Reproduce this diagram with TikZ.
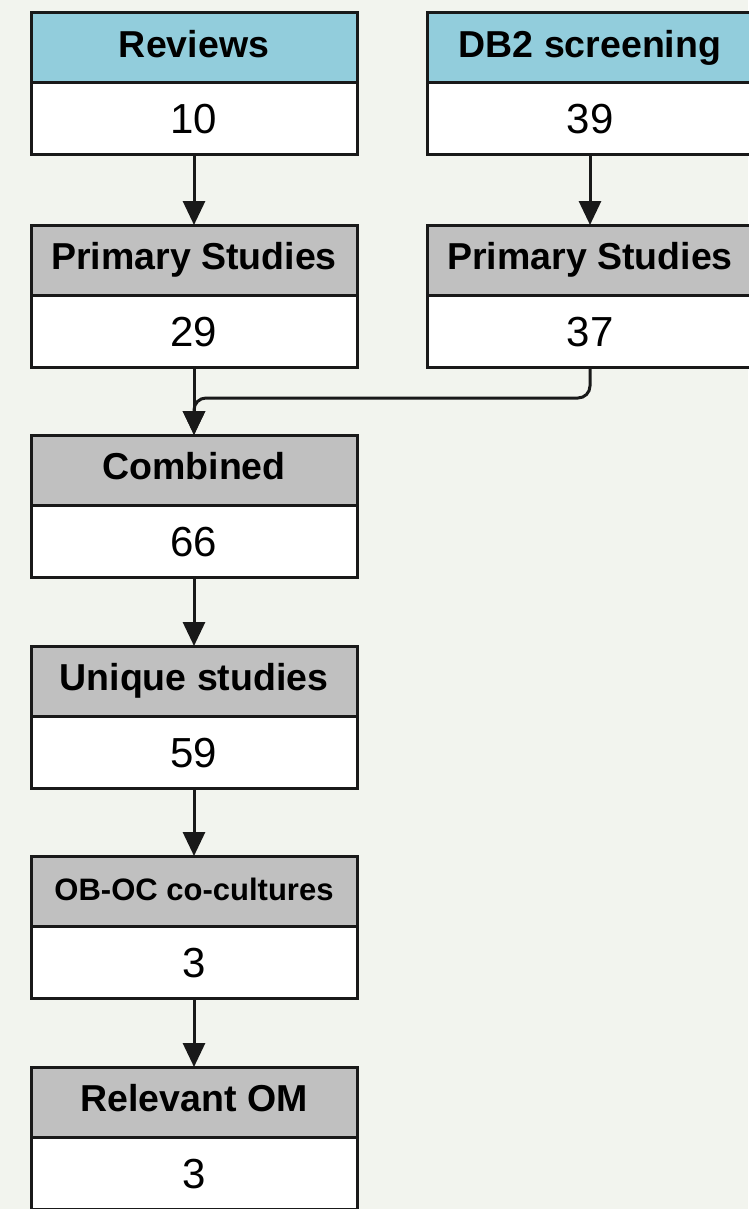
\documentclass[tikz,border=0pt]{standalone}
\usepackage{fontspec}
\setmainfont{Liberation Sans}
\usetikzlibrary{positioning, arrows.meta}
\definecolor{FBlue}{RGB}{146,205,220}
\definecolor{FGray}{RGB}{192,192,192}
\definecolor{FBack}{RGB}{242,244,238}
\definecolor{FLine}{RGB}{25,25,25}

\begin{document}
\begin{tikzpicture}[x=1pt, y=-1pt,
      hbox/.style={rectangle, draw=FLine, line width=3pt, fill=FGray,
                   minimum width=326pt, minimum height=70pt, inner sep=0pt,
                   outer sep=0pt, text height=27pt, text depth=8pt,
                   font=\fontsize{37.5}{40}\selectfont\bfseries},
      vbox/.style={rectangle, draw=FLine, line width=3pt, fill=white,
                   minimum width=326pt, minimum height=72pt, inner sep=0pt,
                   outer sep=0pt, text height=30pt, text depth=0pt,
                   font=\fontsize{42}{46}\selectfont},
      arr/.style={-{Triangle[length=24pt, width=22pt]}, draw=FLine, line width=3pt}
    ]
    \useasboundingbox (0,0) rectangle (748,1209);
    \fill[FBack] (0,0) rectangle (748,1209);

    % left column
    \node[hbox, fill=FBlue] (revH)  at (194,48)   {Reviews};
    \node[vbox, below=0pt of revH]  (revN)  {10};
    \node[hbox]             (p1H)   at (194,260)  {Primary Studies};
    \node[vbox, below=0pt of p1H]   (p1N)   {29};
    \node[hbox]             (combH) at (194,470)  {Combined};
    \node[vbox, below=0pt of combH] (combN) {66};
    \node[hbox]             (uniqH) at (194,681)  {Unique studies};
    \node[vbox, below=0pt of uniqH] (uniqN) {59};
    \node[hbox, font=\fontsize{31}{34}\selectfont\bfseries]
                            (cocH)  at (194,891)  {OB-OC co-cultures};
    \node[vbox, below=0pt of cocH]  (cocN)  {3};
    \node[hbox]             (relH)  at (194,1102) {Relevant OM};
    \node[vbox, below=0pt of relH]  (relN)  {3};

    % right column
    \node[hbox, fill=FBlue] (dbH)   at (590,48)   {DB2 screening};
    \node[vbox, below=0pt of dbH]   (dbN)   {39};
    \node[hbox]             (p2H)   at (590,260)  {Primary Studies};
    \node[vbox, below=0pt of p2H]   (p2N)   {37};

    \foreach \a/\b in {revN/p1H, dbN/p2H, p1N/combH, combN/uniqH,
                       uniqN/cocH, cocN/relH}{
      \draw[arr] (\a.south) -- (\b.north);
    }

    \coordinate (merge) at (194,398);
    \draw[arr, rounded corners=12pt] (p2N.south) |- (merge) -- (combH.north);
  \end{tikzpicture}
\end{document}
